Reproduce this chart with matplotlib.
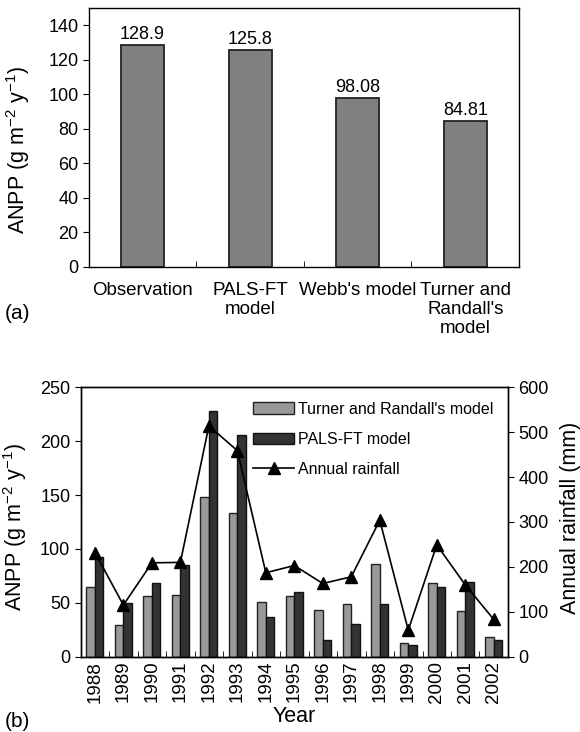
import numpy as np
import matplotlib.pyplot as plt
import matplotlib.transforms as mtransforms
from matplotlib.ticker import FixedLocator

plt.rcParams['font.family'] = ['Liberation Sans', 'DejaVu Sans']
plt.rcParams['mathtext.default'] = 'regular'
plt.rcParams['axes.linewidth'] = 1.0

# panel (a)
methods = ['Observation', 'PALS-FT\nmodel', "Webb's model", "Turner and\nRandall's\nmodel"]
mean_anpp = [128.9, 125.8, 98.08, 84.81]
mean_labels = ['128.9', '125.8', '98.08', '84.81']

# panel (b)
years = ['1988', '1989', '1990', '1991', '1992', '1993', '1994', '1995',
         '1996', '1997', '1998', '1999', '2000', '2001', '2002']
turner = [64.4, 29.4, 56, 57.5, 148.5, 133, 50.4, 56.3, 43.3, 48.9, 85.7, 12.4, 68, 42, 18.3]
pals = [92.2, 50, 68.4, 85.4, 228, 205.8, 36.5, 60.3, 15.5, 30.6, 48.9, 10.8, 64.4, 69.3, 15.5]
rainfall = [232, 115, 209, 210, 514, 459, 187, 203, 163, 178, 304, 59, 249, 160, 83]

ylab = 'ANPP (g m$^{-2}$ y$^{-1}$)'

fig = plt.figure(figsize=(5.8, 7.32), dpi=100)

# ---- (a) ----
ax1 = fig.add_axes([0.1531, 0.6357, 0.7417, 0.353])
x = np.arange(len(methods))
ax1.bar(x, mean_anpp, width=0.4, color='#808080', edgecolor='#222222', linewidth=1.3)
for xi, v, s in zip(x, mean_anpp, mean_labels):
    ax1.text(xi, v + 1.2, s, ha='center', va='bottom', fontsize=13)
ax1.set_xlim(-0.5, 3.5)
ax1.set_ylim(0, 150)
ax1.set_yticks(range(0, 141, 20))
ax1.set_xticks(x)
ax1.set_xticklabels(methods, fontsize=13.5, va='top', linespacing=1.15)
# labels sit a little right of the bars in the original
for lab, dx in zip(ax1.get_xticklabels(), [3, 2, 5, 11]):
    lab.set_transform(lab.get_transform() +
                      mtransforms.ScaledTranslation(dx / 100, 0, fig.dpi_scale_trans))
ax1.xaxis.set_minor_locator(FixedLocator([0.5, 1.5, 2.5]))
ax1.tick_params(axis='x', which='major', length=0, pad=11)
ax1.tick_params(axis='x', which='minor', direction='in', length=4)
ax1.tick_params(axis='y', labelsize=13, length=4)
ax1.set_ylabel(ylab, fontsize=15.5)
ax1.yaxis.set_label_coords(-0.133, 0.452)
fig.text(0.009, 0.572, '(a)', fontsize=15, va='center')

# ---- (b) ----
ax2 = fig.add_axes([0.1391, 0.1029, 0.7367, 0.368])
xb = np.arange(len(years))
w = 0.3
ax2.bar(xb - w, turner, width=w, align='edge', color='#999999', edgecolor='#222222',
        linewidth=1.0, label="Turner and Randall's model")
ax2.bar(xb, pals, width=w, align='edge', color='#333333', edgecolor='#111111',
        linewidth=1.0, label='PALS-FT model')
ax2.set_xlim(-0.5, len(years) - 0.5)
ax2.set_ylim(0, 250)
ax2.set_yticks(range(0, 251, 50))
ax2.set_xticks(xb)
ax2.set_xticklabels(years, rotation=90, fontsize=13.5)
ax2.xaxis.set_minor_locator(FixedLocator(xb[:-1] + 0.5))
ax2.tick_params(axis='x', which='major', length=0, pad=3)
ax2.tick_params(axis='x', which='minor', direction='in', length=4)
ax2.tick_params(axis='y', labelsize=13, length=4)
ax2.set_ylabel(ylab, fontsize=15.5)
ax2.yaxis.set_label_coords(-0.12, 0.481)
ax2.set_xlabel('Year', fontsize=15.5, labelpad=2)

ax3 = ax2.twinx()
ax3.plot(xb, rainfall, color='black', marker='^', markersize=8, linewidth=1.2,
         label='Annual rainfall')
ax3.set_ylim(0, 600)
ax3.set_yticks(range(0, 601, 100))
ax3.tick_params(axis='y', labelsize=13, length=4)
ax3.set_ylabel('Annual rainfall (mm)', fontsize=15.5)
ax3.yaxis.set_label_coords(1.1217, 0.515)

h1, l1 = ax2.get_legend_handles_labels()
h3, l3 = ax3.get_legend_handles_labels()
ax3.legend(h1 + h3, l1 + l3, loc='upper right', frameon=False, fontsize=11.5,
           handlelength=2.57, handleheight=0.73, labelspacing=0.95,
           borderaxespad=0.5, handletextpad=0.25)
fig.text(0.009, 0.014, '(b)', fontsize=15, va='center')

fig.savefig('out.png', dpi=100)
